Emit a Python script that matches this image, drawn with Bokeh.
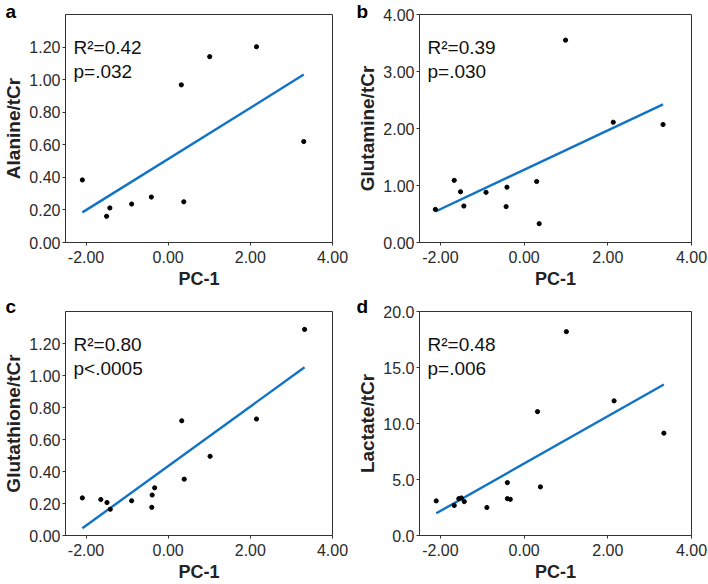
from bokeh.plotting import figure
from bokeh.layouts import column, row
from bokeh.models import Label, FixedTicker, NumeralTickFormatter, Range1d
from bokeh.embed import file_html
from bokeh.resources import INLINE

FONT = "Liberation Sans"

# ---- data ----
pc1_a = [-2.09, -1.50, -1.42, -0.89, -0.41, 0.38, 0.32, 1.01, 2.15, 3.30]
alanine = [0.384, 0.161, 0.212, 0.236, 0.279, 0.250, 0.968, 1.141, 1.202, 0.620]

pc1_b = [-2.12, -1.67, -1.52, -1.44, -0.91, -0.41, -0.43, 0.30, 0.36, 0.99, 2.13, 3.32]
glutamine = [0.58, 1.09, 0.89, 0.64, 0.88, 0.97, 0.63, 1.07, 0.33, 3.55, 2.11, 2.07]

pc1_c = [-2.09, -1.64, -1.49, -1.41, -0.89, -0.40, -0.39, -0.33, 0.33, 0.39, 1.02, 2.15, 3.32]
glutathione = [0.235, 0.225, 0.206, 0.164, 0.217, 0.176, 0.253, 0.298, 0.717, 0.352, 0.495, 0.728, 1.288]

pc1_d = [-2.10, -1.67, -1.56, -1.50, -1.43, -0.89, -0.40, -0.40, -0.33, 0.32, 0.39, 1.01, 2.15, 3.34]
lactate = [3.09, 2.68, 3.29, 3.35, 3.03, 2.50, 4.72, 3.29, 3.23, 11.06, 4.34, 18.2, 12.02, 9.14]

# regression fits (slope, intercept)
fit_slope = [0.157, 0.3456, 0.186, 2.114]
fit_intercept = [0.513, 1.276, 0.434, 6.42]

r2_texts = ["R\u00b2=0.42", "R\u00b2=0.39", "R\u00b2=0.80", "R\u00b2=0.48"]
p_texts = ["p=.032", "p=.030", "p<.0005", "p=.006"]
y_labels = ["Alanine/tCr", "Glutamine/tCr", "Glutathione/tCr", "Lactate/tCr"]
panel_letters = ["a", "b", "c", "d"]
x_label = "PC-1"

x_ticks = [-2, 0, 2, 4]
y_ticks_a = [0, 0.2, 0.4, 0.6, 0.8, 1.0, 1.2]
y_ticks_b = [0, 1, 2, 3, 4]
y_ticks_c = [0, 0.2, 0.4, 0.6, 0.8, 1.0, 1.2]
y_ticks_d = [0, 5, 10, 15, 20]
y_max = [1.4, 4.0, 1.4, 20.0]
y_formats = ["0.00", "0.00", "0.00", "0.0"]

LINE_COLOR = "#1173C6"
FRAME = "#333333"


def panel(i, xs, ys, yticks, w, h, bl, br, bt, bb, letter_dx, letter_standoff):
    p = figure(width=w, height=h, x_range=Range1d(-2.5, 4.0), y_range=Range1d(0, y_max[i]),
               output_backend="svg", toolbar_location=None,
               min_border_left=bl, min_border_right=br, min_border_top=bt, min_border_bottom=bb)
    p.background_fill_color = "white"
    p.border_fill_color = "white"
    p.outline_line_color = FRAME
    p.outline_line_width = 1
    p.xgrid.visible = False
    p.ygrid.visible = False

    # panel letter as the figure title, pulled down into the top border
    p.title.text = panel_letters[i]
    p.title.align = "left"
    p.title.offset = letter_dx
    p.title.standoff = letter_standoff
    p.title.text_font = FONT
    p.title.text_font_size = "19px"
    p.title.text_font_style = "bold"
    p.title.text_color = "black"

    for ax in (p.xaxis[0], p.yaxis[0]):
        ax.axis_line_color = FRAME
        ax.major_tick_line_color = FRAME
        ax.major_tick_in = 0
        ax.major_tick_out = 3
        ax.minor_tick_line_color = None
        ax.major_label_text_font = FONT
        ax.major_label_text_font_size = "16px"
        ax.major_label_text_color = "#2a2a2a"
        ax.axis_label_text_font = FONT
        ax.axis_label_text_font_style = "bold"
        ax.axis_label_text_color = "#222222"

    p.xaxis.ticker = FixedTicker(ticks=x_ticks)
    p.xaxis.formatter = NumeralTickFormatter(format="0.00")
    p.xaxis.axis_label = x_label
    p.xaxis.axis_label_text_font_size = "18px"
    p.xaxis.major_label_standoff = 5
    p.xaxis.axis_label_standoff = 3

    p.yaxis.ticker = FixedTicker(ticks=yticks)
    p.yaxis.formatter = NumeralTickFormatter(format=y_formats[i])
    p.yaxis.axis_label = y_labels[i]
    p.yaxis.axis_label_text_font_size = "19px"
    p.yaxis.major_label_standoff = 2
    p.yaxis.axis_label_standoff = 2

    x0, x1 = min(xs), max(xs)
    p.line([x0, x1], [fit_intercept[i] + fit_slope[i] * x0, fit_intercept[i] + fit_slope[i] * x1],
           line_color=LINE_COLOR, line_width=2.4)
    p.scatter(xs, ys, size=4.2, fill_color="black", line_color="black")

    fh = h - bt - bb
    p.add_layout(Label(x=8, y=fh - 33, x_units="screen", y_units="screen", text=r2_texts[i],
                       text_font=FONT, text_font_size="19px", text_color="#111111",
                       text_baseline="alphabetic"))
    p.add_layout(Label(x=8, y=fh - 57, x_units="screen", y_units="screen", text=p_texts[i],
                       text_font=FONT, text_font_size="19px", text_color="#111111",
                       text_baseline="alphabetic"))
    return p


pa = panel(0, pc1_a, alanine, y_ticks_a, 354, 292, 64, 22, 14, 50, -60, -14)
pb = panel(1, pc1_b, glutamine, y_ticks_b, 354, 292, 64, 17, 14, 50, -63, -14)
pc = panel(2, pc1_c, glutathione, y_ticks_c, 354, 292, 64, 22, 19, 49, -60, -10)
pd = panel(3, pc1_d, lactate, y_ticks_d, 354, 292, 64, 17, 19, 49, -63, -10)

layout = column(row(pa, pb), row(pc, pd))
open("out.html", "w").write(file_html(layout, INLINE))
